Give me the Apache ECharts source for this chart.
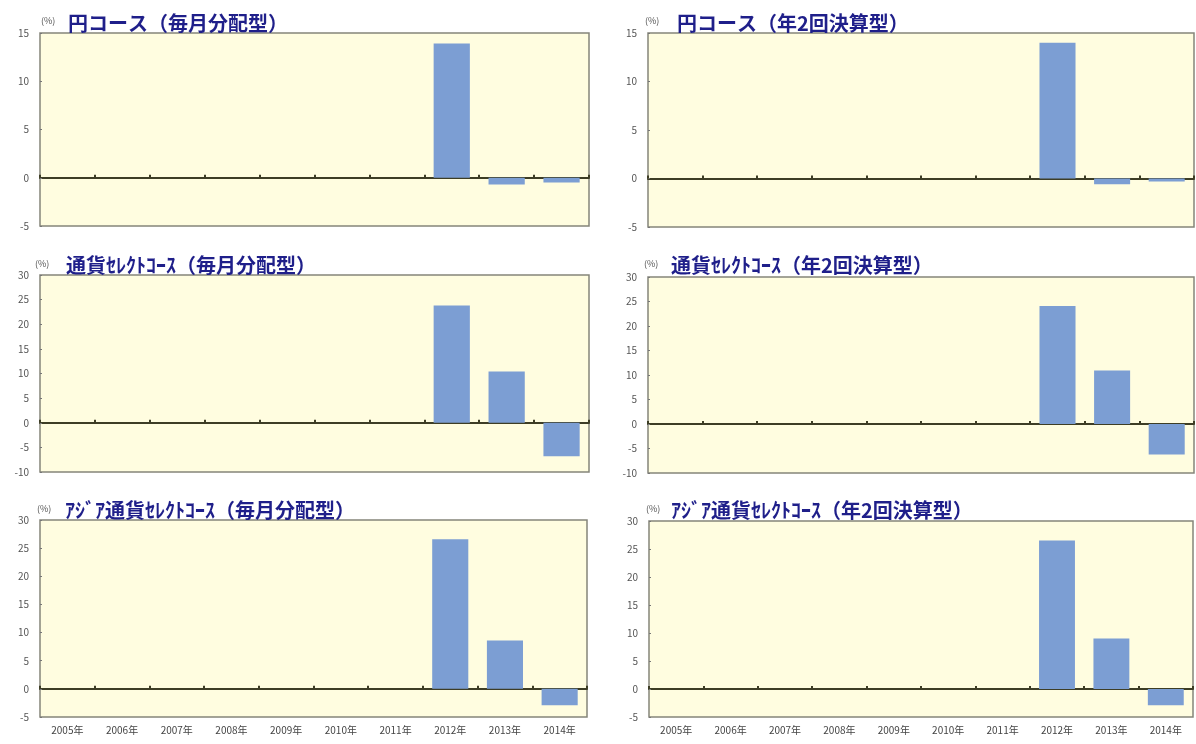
<!DOCTYPE html>
<html>
<head>
<meta charset="utf-8">
<script src="https://cdn.jsdelivr.net/npm/echarts@6/dist/echarts.min.js"></script>
<style>
html,body{margin:0;padding:0;background:#fff;}
#c{width:1196px;height:744px;}
</style>
</head>
<body>
<div id="c"></div>
<script>
// ---- data ----
const categories = ['2005年','2006年','2007年','2008年','2009年','2010年','2011年','2012年','2013年','2014年'];

const yenMonthly   = [null,null,null,null,null,null,null,13.9,-0.7,-0.5];
const yenSemi      = [null,null,null,null,null,null,null,14.0,-0.6,-0.3];
const currMonthly  = [null,null,null,null,null,null,null,23.8,10.4,-6.8];
const currSemi     = [null,null,null,null,null,null,null,24.1,10.9,-6.2];
const asiaMonthly  = [null,null,null,null,null,null,null,26.6,8.6,-2.9];
const asiaSemi     = [null,null,null,null,null,null,null,26.5,9.0,-2.9];

const titles = [
  '円コース（毎月分配型）',
  '円コース（年2回決算型）',
  '通貨ｾﾚｸﾄｺｰｽ（毎月分配型）',
  '通貨ｾﾚｸﾄｺｰｽ（年2回決算型）',
  'ｱｼﾞｱ通貨ｾﾚｸﾄｺｰｽ（毎月分配型）',
  'ｱｼﾞｱ通貨ｾﾚｸﾄｺｰｽ（年2回決算型）'
];
const seriesData = [yenMonthly, yenSemi, currMonthly, currSemi, asiaMonthly, asiaSemi];
const yMin = [-5, -5, -10, -10, -5, -5];
const yMax = [15, 15, 30, 30, 30, 30];
const yInterval = 5;
const unitLabel = '(%)';

// ---- layout ----
const grids = [
  {left: 40,  top: 33,  width: 549, height: 193},
  {left: 648, top: 33,  width: 546, height: 194},
  {left: 40,  top: 275, width: 549, height: 197},
  {left: 648, top: 277, width: 546, height: 196},
  {left: 40,  top: 520, width: 547, height: 197},
  {left: 649, top: 521, width: 544, height: 196}
];
const titlePos = [
  {ux: 36, uy: 11, tx: 63, ty: 8},
  {ux: 640, uy: 11, tx: 672, ty: 8},
  {ux: 30, uy: 254, tx: 61, ty: 250},
  {ux: 639, uy: 254, tx: 666, ty: 250},
  {ux: 32, uy: 499, tx: 60, ty: 495},
  {ux: 641, uy: 499, tx: 666, ty: 495}
];

const FONT = '"Noto Sans CJK JP", "Noto Sans", sans-serif';
const option = {
  animation: false,
  backgroundColor: '#ffffff',
  title: [],
  grid: [],
  xAxis: [],
  yAxis: [],
  series: []
};

for (let i = 0; i < 6; i++) {
  const g = grids[i];
  option.grid.push(Object.assign({
    show: true,
    backgroundColor: '#fffde0',
    borderColor: '#85857a',
    borderWidth: 1.5,
    containLabel: false
  }, g));
  const tp = titlePos[i];
  option.title.push({
    text: unitLabel, left: tp.ux, top: tp.uy,
    textStyle: {fontSize: 9, color: '#555', fontWeight: 'normal', fontFamily: FONT}
  });
  option.title.push({
    text: titles[i], left: tp.tx, top: tp.ty,
    textStyle: {fontSize: 20, color: '#1f1f8a', fontWeight: 'bold', fontFamily: FONT}
  });
  const showLabels = i >= 4;
  // label axis (bottom)
  option.xAxis.push({
    type: 'category', gridIndex: i, data: categories, position: 'bottom',
    axisLine: {show: false, onZero: false},
    axisTick: {show: false},
    axisLabel: {show: showLabels, color: '#444', fontSize: 10, fontFamily: FONT, margin: 8, interval: 0},
    splitLine: {show: false}
  });
  // zero line axis with ticks
  option.xAxis.push({
    type: 'category', gridIndex: i, data: categories, position: 'top',
    axisLine: {show: true, onZero: true, lineStyle: {color: '#3d3d25', width: 2}},
    axisTick: {show: true, length: 3, lineStyle: {color: '#3d3d25', width: 2}},
    axisLabel: {show: false},
    splitLine: {show: false}
  });
  option.yAxis.push({
    type: 'value', gridIndex: i, min: yMin[i], max: yMax[i], interval: yInterval,
    axisLine: {show: false},
    axisTick: {show: true, inside: true, length: 2, lineStyle: {color: '#777'}},
    axisLabel: {color: '#555', fontSize: 10, fontFamily: FONT, margin: 11},
    splitLine: {show: false}
  });
  option.series.push({
    type: 'bar', xAxisIndex: i * 2, yAxisIndex: i,
    data: seriesData[i],
    barCategoryGap: '34%',
    itemStyle: {color: '#7c9ed3'}
  });
}

const chart = echarts.init(document.getElementById('c'));
chart.setOption(option);
</script>
</body>
</html>
